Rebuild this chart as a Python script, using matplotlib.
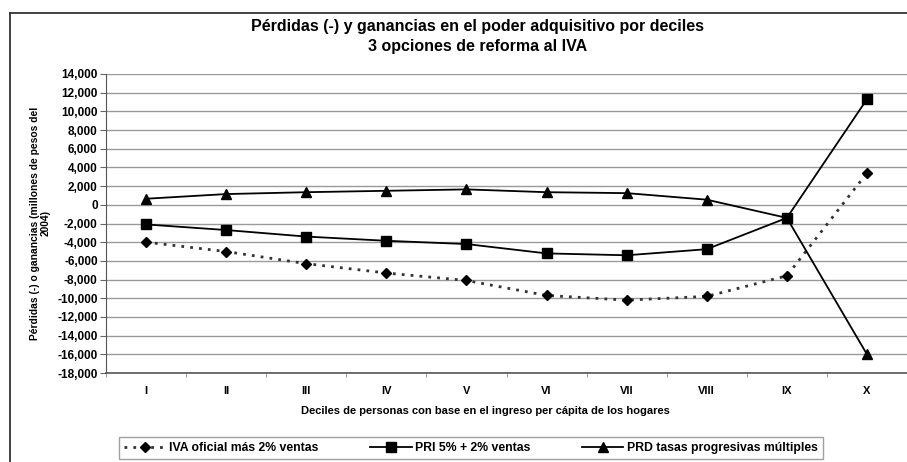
import matplotlib
matplotlib.use('Agg')
import matplotlib.pyplot as plt
from matplotlib.lines import Line2D
import numpy as np

plt.rcParams['font.family'] = ['Liberation Sans', 'DejaVu Sans']
plt.rcParams['font.weight'] = 'bold'
plt.rcParams['axes.labelweight'] = 'bold'

# datos
deciles = ['I', 'II', 'III', 'IV', 'V', 'VI', 'VII', 'VIII', 'IX', 'X']
iva_oficial = [-4000, -5000, -6300, -7300, -8100, -9700, -10200, -9800, -7600, 3400]
pri = [-2100, -2700, -3400, -3850, -4200, -5200, -5400, -4750, -1400, 11300]
prd = [650, 1150, 1350, 1500, 1650, 1350, 1250, 550, -1400, -16000]
yticks = np.arange(-18000, 14001, 2000)

fig = plt.figure(figsize=(9.07, 4.62), dpi=100)
W, H = 907, 462
ax = fig.add_axes([106 / W, 1 - 373 / H, (907 - 106) / W, (373 - 74) / H])

x = np.arange(len(deciles))
ax.plot(x, iva_oficial, color='#333333', linestyle=(0, (1, 2.2)), linewidth=2,
        marker='D', markersize=5, markerfacecolor='black', markeredgecolor='black',
        label='IVA oficial más 2% ventas', zorder=3)
ax.plot(x, pri, color='black', linewidth=1.3, marker='s', markersize=6.5,
        label='PRI 5% + 2% ventas', zorder=3)
ax.plot(x, prd, color='black', linewidth=1.3, marker='^', markersize=6.5,
        label='PRD tasas progresivas múltiples', zorder=3)

ax.set_xlim(-0.5, 9.45)
ax.set_ylim(-18000, 14000)
ax.set_yticks(yticks)
ax.set_yticklabels(['{:,}'.format(v) for v in yticks], fontsize=8.5)
ax.set_xticks(x)
ax.set_xticklabels(deciles, fontsize=8)
ax.set_xticks(np.arange(-0.5, 10, 1), minor=True)
ax.tick_params(axis='x', which='major', length=0, pad=9)
ax.tick_params(axis='x', which='minor', length=3, color='#888888')
ax.tick_params(axis='y', length=4, color='#666666', pad=2)
ax.grid(axis='y', color='#9a9a9a', linewidth=1)
ax.set_axisbelow(True)
for s in ['top', 'right']:
    ax.spines[s].set_visible(False)
ax.spines['left'].set_color('#555555')
ax.spines['bottom'].set_color('#555555')
ax.spines['bottom'].set_linewidth(1.2)

fig.text(485 / W, 1 - 411 / H,
         'Deciles de personas con base en el ingreso per cápita de los hogares',
         ha='center', va='center', fontsize=8)
fig.text(40 / W, 1 - 223 / H, 'Pérdidas (-) o ganancias (millones de pesos del\n2004)',
         rotation=90, ha='center', va='center', fontsize=7.4, linespacing=1.1)
fig.text(478 / W, 1 - 27 / H, 'Pérdidas (-) y ganancias en el poder adquisitivo por deciles',
         ha='center', va='center', fontsize=11.5)
fig.text(478 / W, 1 - 46 / H, '3 opciones de reforma al IVA',
         ha='center', va='center', fontsize=11.5)

leg = fig.legend(loc='center', bbox_to_anchor=(471 / W, 1 - 448 / H), ncol=3,
                 fontsize=8.8, handlelength=3.4, handletextpad=0.3, columnspacing=4.2,
                 fancybox=False, edgecolor='#888888', borderpad=0.4, borderaxespad=0)
leg.get_frame().set_linewidth(1)

# marco exterior
fig.add_artist(Line2D([10 / W, 10 / W], [0, 1 - 13 / H], color='#333333', linewidth=1.3))
fig.add_artist(Line2D([10 / W, 1], [1 - 13 / H, 1 - 13 / H], color='#333333', linewidth=1.3))

fig.savefig('out.png', dpi=100)
